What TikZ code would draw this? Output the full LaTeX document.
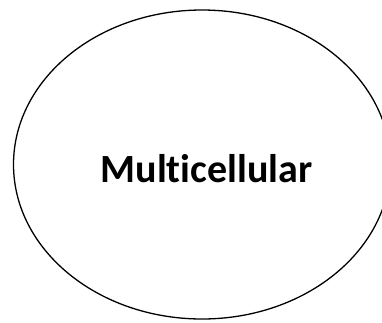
\documentclass[tikz,border=0pt]{standalone}
\usepackage{fontspec}
\setmainfont[Ligatures={NoCommon,NoRare}]{Carlito}
\begin{document}
\begin{tikzpicture}[x=1pt,y=-1pt,
  cell/.style={draw=black,line width=1.3pt}]
\useasboundingbox (0,0) rectangle (382,322);
\draw[cell] (202,164.5) ellipse [x radius=188.5, y radius=154.5];
\node[anchor=base,inner sep=0pt,font=\fontsize{40}{48}\selectfont\bfseries] (label) at (206.5,182) {Multicellular};
\end{tikzpicture}
\end{document}
